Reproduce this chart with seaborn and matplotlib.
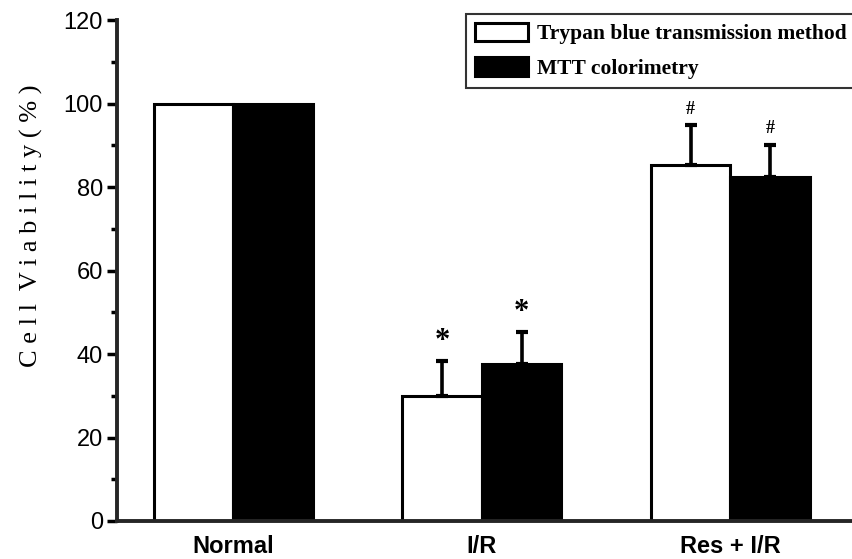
import matplotlib
matplotlib.use("Agg")
import matplotlib.pyplot as plt
from matplotlib.ticker import MultipleLocator
import seaborn as sns
import pandas as pd

# DATA
groups = ["Normal", "I/R", "Res + I/R"]
methods = ["Trypan blue transmission method", "MTT colorimetry"]
trypan = [100, 30, 85.3]
mtt = [100, 37.5, 82.5]
trypan_err = [0, 8.3, 9.5]
mtt_err = [0, 7.8, 7.6]
trypan_marks = ["", "*", "#"]
mtt_marks = ["", "*", "#"]

df = pd.DataFrame({
    "group": groups * 2,
    "method": [methods[0]] * 3 + [methods[1]] * 3,
    "value": trypan + mtt,
})

sns.set_style("ticks")
plt.rcParams["text.color"] = "black"
plt.rcParams["xtick.color"] = "black"
plt.rcParams["ytick.color"] = "black"
plt.rcParams["axes.labelcolor"] = "black"

fig = plt.figure(figsize=(8.52, 5.59), dpi=100)
ax = fig.add_axes([0.137, 0.068, 0.863, 0.896])

sns.barplot(data=df, x="group", y="value", hue="method", order=groups,
            hue_order=methods, palette=["white", "black"], width=0.64,
            edgecolor="black", linewidth=2.2, errorbar=None, ax=ax,
            saturation=1)

# error bars (upper only) + significance marks on each bar
errs = [trypan_err, mtt_err]
marks = [trypan_marks, mtt_marks]
vals = [trypan, mtt]
bar_conts = list(ax.containers)
for k, cont in enumerate(bar_conts):
    for i, bar in enumerate(cont):
        xc = bar.get_x() + bar.get_width() / 2
        if errs[k][i] > 0:
            ax.errorbar(xc, vals[k][i], yerr=[[0], [errs[k][i]]], fmt="none",
                        ecolor="black", elinewidth=2.6, capsize=4.5, capthick=3)
        if marks[k][i]:
            fs = 22 if marks[k][i] == "*" else 13
            dy = 1.2 if marks[k][i] == "*" else 1.8
            ax.text(xc, vals[k][i] + errs[k][i] + dy, marks[k][i],
                    ha="center", va="bottom", fontsize=fs, fontweight="bold",
                    family="Liberation Serif")

ax.set_xlim(-0.47, 2.49)
ax.set_ylim(0, 120)
ax.yaxis.set_major_locator(MultipleLocator(20))
ax.yaxis.set_minor_locator(MultipleLocator(10))
ax.tick_params(axis="y", which="major", length=7, width=2.5, labelsize=17,
               direction="out", pad=3)
ax.tick_params(axis="y", which="minor", length=4, width=2.5, direction="out")
ax.tick_params(axis="x", length=0, labelsize=17, pad=10)
for lab in ax.get_yticklabels():
    lab.set_family("Liberation Sans")
for lab in ax.get_xticklabels():
    lab.set_family("Liberation Sans")
    lab.set_fontweight("bold")

sns.despine(ax=ax, top=True, right=True)
ax.spines["left"].set_linewidth(2.8)
ax.spines["bottom"].set_linewidth(2.8)

ax.set_xlabel("")
ax.set_ylabel("C e l l  V i a b i l i t y ( % )", fontsize=19,
              family="Liberation Serif")
ax.yaxis.set_label_coords(-0.10, 0.59)

leg = ax.legend(loc="upper left", bbox_to_anchor=(0.475, 1.012),
                borderaxespad=0, frameon=True, fancybox=False,
                edgecolor="black",
                prop={"family": "Liberation Serif", "weight": "bold",
                      "size": 15.5},
                handlelength=2.5, handleheight=0.95, borderpad=0.4,
                labelspacing=0.6, handletextpad=0.4)
leg.get_frame().set_linewidth(1.5)

fig.savefig("out.png", dpi=100)
